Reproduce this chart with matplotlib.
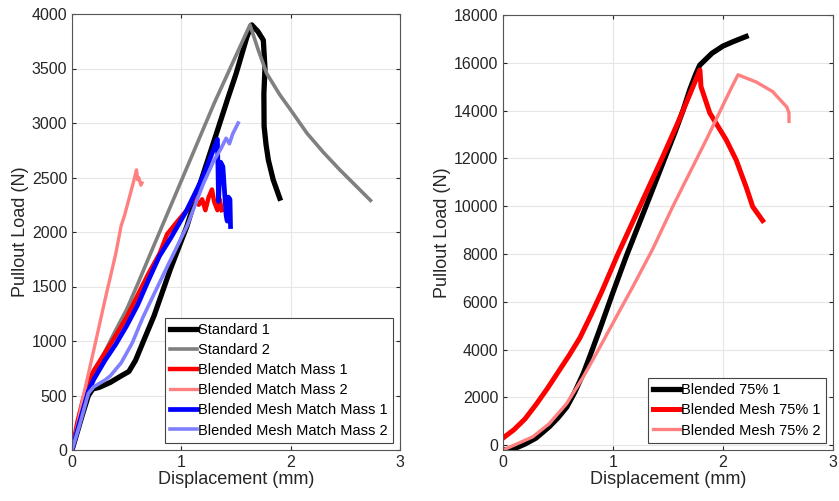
import numpy as np
import matplotlib
matplotlib.use('Agg')
import matplotlib.pyplot as plt

# ---- left panel data (displacement mm, load N)
std1_x = [0, 0.05, 0.1, 0.15, 0.19, 0.25, 0.35, 0.45, 0.52, 0.58, 0.65, 0.75, 0.9, 1.05, 1.17, 1.32, 1.42, 1.5, 1.6, 1.644,
          1.7, 1.75, 1.765, 1.755, 1.757, 1.775, 1.796, 1.84, 1.9]
std1_y = [0, 170, 340, 500, 560, 575, 620, 680, 720, 820, 990, 1230, 1660, 2050, 2440, 2900, 3210, 3450, 3790, 3900,
          3840, 3760, 3500, 3270, 2970, 2800, 2660, 2480, 2310]

std2_x = [0, 0.1, 0.2, 0.3, 0.4, 0.5, 0.6, 0.7, 1.0, 1.3, 1.628, 1.7, 1.78, 1.9, 2.0, 2.15, 2.3, 2.45, 2.6, 2.73]
std2_y = [0, 380, 700, 900, 1100, 1290, 1520, 1760, 2470, 3180, 3900, 3680, 3456, 3260, 3120, 2905, 2730, 2570, 2420, 2290]

bmm1_x = [0, 0.05, 0.1, 0.15, 0.2, 0.3, 0.4, 0.5, 0.6, 0.7, 0.8, 0.87, 0.95, 1.05, 1.12, 1.16, 1.19, 1.22, 1.25, 1.28, 1.3, 1.33, 1.35, 1.37]
bmm1_y = [0, 260, 460, 630, 730, 890, 1050, 1220, 1420, 1620, 1800, 1980, 2080, 2200, 2330, 2250, 2300, 2200, 2320, 2390, 2280, 2200, 2300, 2200]

bmm2_x = [0, 0.05, 0.1, 0.2, 0.3, 0.4, 0.45, 0.48, 0.52, 0.56, 0.59, 0.6, 0.61, 0.63, 0.64]
bmm2_y = [0, 230, 480, 920, 1370, 1800, 2060, 2150, 2300, 2450, 2570, 2480, 2500, 2430, 2450]

bmmm1_x = [0, 0.07, 0.15, 0.2, 0.3, 0.4, 0.5, 0.6, 0.7, 0.8, 0.9, 1.05, 1.2, 1.33, 1.335, 1.34, 1.35, 1.36, 1.38, 1.4, 1.41, 1.42, 1.43, 1.445, 1.45]
bmmm1_y = [0, 260, 540, 650, 820, 970, 1140, 1330, 1560, 1780, 1940, 2200, 2510, 2850, 2600, 2280, 2500, 2640, 2600, 2300, 2150, 2100, 2320, 2300, 2050]

bmmm2_x = [0, 0.07, 0.15, 0.2, 0.3, 0.35, 0.45, 0.55, 0.65, 0.75, 0.87, 1.05, 1.2, 1.3, 1.36, 1.41, 1.44, 1.47, 1.52]
bmmm2_y = [0, 230, 520, 580, 640, 680, 800, 980, 1220, 1430, 1680, 2050, 2440, 2660, 2760, 2860, 2810, 2900, 3000]

# ---- right panel data
b75_x = [0, 0.1, 0.2, 0.3, 0.42, 0.5, 0.58, 0.65, 0.73, 0.8, 0.88, 1.0, 1.12, 1.24, 1.36, 1.47, 1.56, 1.636, 1.7, 1.75, 1.788,
         1.9, 2.0, 2.1, 2.21]
b75_y = [-200, -150, 50, 300, 770, 1150, 1600, 2200, 3000, 3850, 4850, 6400, 7900, 9300, 10700, 12000, 13050, 14000, 14900, 15500, 15900,
         16400, 16700, 16900, 17100]

bm75_1_x = [0, 0.1, 0.2, 0.3, 0.4, 0.5, 0.6, 0.7, 0.8, 0.9, 1.045, 1.25, 1.45, 1.6, 1.7, 1.79, 1.8, 1.88, 2.03, 2.12, 2.21, 2.27, 2.36]
bm75_1_y = [300, 650, 1100, 1700, 2350, 3050, 3750, 4500, 5450, 6450, 8000, 10050, 12050, 13600, 14700, 15700, 15000, 13900, 12770, 11930, 10810, 9980, 9400]

bm75_2_x = [0, 0.1, 0.27, 0.42, 0.58, 0.73, 0.88, 1.03, 1.18, 1.36, 1.545, 1.85, 2.06, 2.136, 2.3, 2.45, 2.58, 2.6, 2.6]
bm75_2_y = [-200, 0, 350, 900, 1750, 2860, 4100, 5370, 6630, 8200, 10000, 12800, 14800, 15500, 15200, 14800, 14150, 13900, 13550]

left_labels = ['Standard 1', 'Standard 2', 'Blended Match Mass 1', 'Blended Match Mass 2',
               'Blended Mesh Match Mass 1', 'Blended Mesh Match Mass 2']
right_labels = ['Blended 75% 1', 'Blended Mesh 75% 1', 'Blended Mesh 75% 2']

plt.rcParams['font.family'] = ['Liberation Sans', 'DejaVu Sans']

fig = plt.figure(figsize=(8.39, 5.01), dpi=100)
ax1 = fig.add_axes([72/839, 1-450/501, 328/839, 436/501])
ax2 = fig.add_axes([503/839, 1-450/501, 330/839, 435/501])


def style(ax):
    ax.grid(True, color='#e6e6e6', linewidth=0.8)
    ax.set_axisbelow(True)
    ax.tick_params(direction='in', top=True, right=True, labelsize=11.5, colors='#262626', length=3)
    for s in ax.spines.values():
        s.set_color('#555555')
        s.set_linewidth(0.8)
    ax.set_xlabel('Displacement (mm)', fontsize=13, color='#262626', labelpad=1)
    ax.set_ylabel('Pullout Load (N)', fontsize=13, color='#262626', labelpad=2)


def add_legend(ax):
    leg = ax.legend(loc='lower right', fontsize=10.5, handlelength=1.8, handletextpad=0.1,
                    labelspacing=0.42, borderpad=0.35, fancybox=False, framealpha=1,
                    edgecolor='#444444', borderaxespad=0.5)
    leg.get_frame().set_linewidth(0.8)


ax1.plot(std1_x, std1_y, color='black', lw=3.8, label=left_labels[0])
ax1.plot(std2_x, std2_y, color='#808080', lw=2.6, label=left_labels[1])
ax1.plot(bmm1_x, bmm1_y, color='#ff0000', lw=3.2, label=left_labels[2])
ax1.plot(bmm2_x, bmm2_y, color='#ff8080', lw=2.4, label=left_labels[3])
ax1.plot(bmmm1_x, bmmm1_y, color='#0000ff', lw=3.4, label=left_labels[4])
ax1.plot(bmmm2_x, bmmm2_y, color='#8080ff', lw=2.6, label=left_labels[5])
ax1.set_xlim(0, 3)
ax1.set_ylim(0, 4000)
ax1.set_xticks([0, 1, 2, 3])
ax1.set_yticks(np.arange(0, 4001, 500))
style(ax1)
add_legend(ax1)

ax2.plot(b75_x, b75_y, color='black', lw=3.8, label=right_labels[0])
ax2.plot(bm75_1_x, bm75_1_y, color='#ff0000', lw=3.6, label=right_labels[1])
ax2.plot(bm75_2_x, bm75_2_y, color='#ff8080', lw=2.4, label=right_labels[2])
ax2.set_xlim(0, 3)
ax2.set_ylim(-200, 18000)
ax2.set_xticks([0, 1, 2, 3])
ax2.set_yticks(np.arange(0, 18001, 2000))
style(ax2)
add_legend(ax2)

plt.savefig('out.png', dpi=100)
